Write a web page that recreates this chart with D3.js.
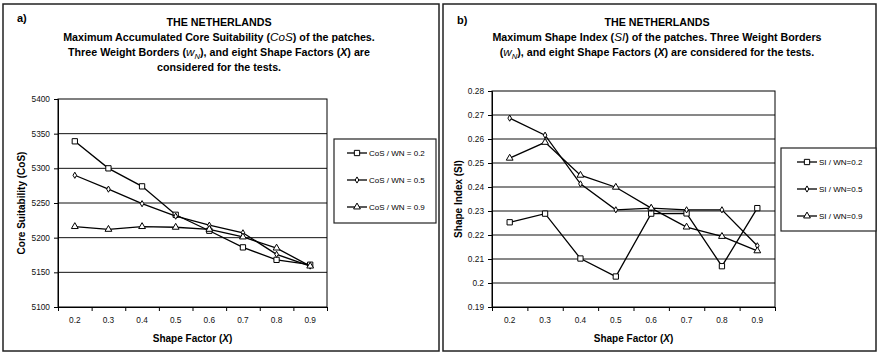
<!DOCTYPE html>
<html><head><meta charset="utf-8">
<script src="https://cdn.jsdelivr.net/npm/d3@7/dist/d3.min.js"></script>
<style>
body { margin: 0; background: #fff; }
text { font-family: "Liberation Sans", Arial, sans-serif; fill: #000; }
.tick text { fill: #111; font-size: 8.3px; }
</style></head><body>
<svg id="chart" width="877" height="353"></svg>
<script>
// data
const shapeFactors = ["0.2", "0.3", "0.4", "0.5", "0.6", "0.7", "0.8", "0.9"];
const cosWN02 = [5339, 5300, 5274, 5233, 5210, 5186, 5168, 5161];
const cosWN05 = [5290, 5270, 5249, 5231, 5218, 5207, 5176, 5159];
const cosWN09 = [5216, 5212, 5216, 5215, 5212, 5201, 5185, 5159];
const siWN02 = [0.2253, 0.2289, 0.2102, 0.2027, 0.2289, 0.2290, 0.2070, 0.2312];
const siWN05 = [0.2687, 0.2616, 0.2413, 0.2305, 0.2312, 0.2305, 0.2305, 0.2155];
const siWN09 = [0.2520, 0.2586, 0.2449, 0.2399, 0.2312, 0.2233, 0.2194, 0.2134];
const cosTicks = [5100, 5150, 5200, 5250, 5300, 5350, 5400];
const siTicks = [0.19, 0.2, 0.21, 0.22, 0.23, 0.24, 0.25, 0.26, 0.27, 0.28];
const cosNames = ["CoS / WN = 0.2", "CoS / WN = 0.5", "CoS / WN = 0.9"];
const siNames = ["SI / WN=0.2", "SI / WN=0.5", "SI / WN=0.9"];

const svg = d3.select("#chart");
const markers = [d3.symbolSquare, d3.symbolDiamond, d3.symbolTriangle];
const markerSize = [28, 11, 20];

const panels = [
  { box: [3, 4, 436, 347], letter: "a)", letterX: 17, letterY: 22, titleX: 219,
    plot: { l: 58, r: 327, t: 99, b: 307 }, ticks: cosTicks, fmt: d => d,
    series: [cosWN02, cosWN05, cosWN09], names: cosNames,
    yTitle: "Core Suitability (CoS)", yTitleX: 21,
    legend: { x: 334, y: 139, w: 102, h: 84, lineX: 347, gap: 27 },
    title: [
      [{ t: "THE NETHERLANDS" }],
      [{ t: "Maximum Accumulated Core Suitability (" }, { t: "CoS", i: 1 }, { t: ") of the patches." }],
      [{ t: "Three Weight Borders (" }, { t: "w", i: 1 }, { t: "N", i: 1, sub: 1 }, { t: "), and eight Shape Factors (" }, { t: "X", i: 2 }, { t: ") are" }],
      [{ t: "considered for the tests." }]
    ] },
  { box: [443, 4, 433, 347], letter: "b)", letterX: 457, letterY: 24, titleX: 657,
    plot: { l: 492, r: 775, t: 91, b: 307 }, ticks: siTicks, fmt: d => +d.toFixed(2),
    series: [siWN02, siWN05, siWN09], names: siNames,
    yTitle: "Shape Index (SI)", yTitleX: 458,
    legend: { x: 781, y: 148, w: 95, h: 83, lineX: 797, gap: 27 },
    title: [
      [{ t: "THE NETHERLANDS" }],
      [{ t: "Maximum Shape Index (" }, { t: "SI", i: 1 }, { t: ") of the patches. Three Weight Borders" }],
      [{ t: "(" }, { t: "w", i: 1 }, { t: "N", i: 1, sub: 1 }, { t: "), and eight Shape Factors (" }, { t: "X", i: 2 }, { t: ") are considered for the tests." }]
    ] }
];

function richLine(g, x, y, parts, size) {
  const txt = g.append("text").attr("x", x).attr("y", y).attr("text-anchor", "middle")
    .attr("font-size", size).attr("font-weight", "bold");
  let shifted = false;
  parts.forEach(p => {
    const s = txt.append("tspan").text(p.t);
    if (p.i) s.attr("font-style", "italic");
    if (p.i === 1) s.attr("font-weight", "normal").attr("font-size", size + 1);
    if (p.sub) { s.attr("dy", 2.5).attr("font-size", size - 3); shifted = true; }
    else if (shifted) { s.attr("dy", -2.5); shifted = false; }
  });
  return txt;
}

function drawPanel(p) {
  const g = svg.append("g");
  g.append("rect").attr("x", p.box[0]).attr("y", p.box[1]).attr("width", p.box[2]).attr("height", p.box[3])
    .attr("fill", "none").attr("stroke", "#222").attr("stroke-width", 1.5);
  g.append("text").attr("x", p.letterX).attr("y", p.letterY).attr("font-size", 11).attr("font-weight", "bold").text(p.letter);
  p.title.forEach((line, k) => richLine(g, p.titleX, 26 + k * 15, line, 10.7));

  const pl = p.plot;
  const x = d3.scaleBand().domain(shapeFactors).range([pl.l, pl.r]);
  const xEdge = d3.scaleLinear().domain([0, shapeFactors.length]).range([pl.l, pl.r]);
  const y = d3.scaleLinear().domain(d3.extent(p.ticks)).range([pl.b, pl.t]);

  // horizontal gridlines
  g.append("g").selectAll("line").data(p.ticks.slice(1, -1)).join("line")
    .attr("x1", pl.l).attr("x2", pl.r).attr("y1", d => y(d)).attr("y2", d => y(d))
    .attr("stroke", "#111").attr("stroke-width", 1);
  g.append("rect").attr("x", pl.l).attr("y", pl.t).attr("width", pl.r - pl.l).attr("height", pl.b - pl.t)
    .attr("fill", "none").attr("stroke", "#000").attr("stroke-width", 1);

  const yAxis = g.append("g").attr("transform", `translate(${pl.l},0)`)
    .call(d3.axisLeft(y).tickValues(p.ticks).tickFormat(p.fmt).tickSize(4).tickPadding(4));
  const xLab = g.append("g").attr("transform", `translate(0,${pl.b})`)
    .call(d3.axisBottom(x).tickSize(0).tickPadding(10));
  const xTick = g.append("g").attr("transform", `translate(0,${pl.b})`)
    .call(d3.axisBottom(xEdge).tickValues(d3.range(shapeFactors.length + 1)).tickFormat("").tickSize(4));
  [yAxis, xLab, xTick].forEach(a => { a.select(".domain").attr("stroke", "#000"); a.selectAll(".tick line").attr("stroke", "#000"); });
  xLab.select(".domain").remove();

  // axis titles
  g.append("text").attr("transform", `translate(${p.yTitleX},${(pl.t + pl.b) / 2}) rotate(-90)`)
    .attr("text-anchor", "middle").attr("dy", "0.35em").attr("font-size", 10).attr("font-weight", "bold").text(p.yTitle);
  richLine(g, (pl.l + pl.r) / 2, 342, [{ t: "Shape Factor (" }, { t: "X", i: 2 }, { t: ")" }], 10);

  // series
  const line = d3.line().x((d, k) => x(shapeFactors[k]) + x.bandwidth() / 2).y(d => y(d));
  p.series.forEach((vals, s) => {
    g.append("path").datum(vals).attr("d", line).attr("fill", "none").attr("stroke", "#000").attr("stroke-width", 1.3);
    g.append("g").selectAll("path").data(vals).join("path")
      .attr("d", d3.symbol(markers[s], markerSize[s]))
      .attr("transform", (d, k) => `translate(${x(shapeFactors[k]) + x.bandwidth() / 2},${y(d)})`)
      .attr("fill", "#fff").attr("stroke", "#000").attr("stroke-width", 1);
  });

  // legend
  const lg = p.legend;
  g.append("rect").attr("x", lg.x).attr("y", lg.y).attr("width", lg.w).attr("height", lg.h)
    .attr("fill", "#fff").attr("stroke", "#222").attr("stroke-width", 1.2);
  p.names.forEach((n, s) => {
    const ly = lg.y + 14 + s * lg.gap;
    g.append("line").attr("x1", lg.lineX).attr("x2", lg.lineX + 20).attr("y1", ly).attr("y2", ly)
      .attr("stroke", "#000").attr("stroke-width", 1.3);
    g.append("path").attr("d", d3.symbol(markers[s], markerSize[s]))
      .attr("transform", `translate(${lg.lineX + 10},${ly})`).attr("fill", "#fff").attr("stroke", "#000");
    g.append("text").attr("x", lg.lineX + 22).attr("y", ly).attr("dy", "0.35em").attr("font-size", 8).attr("fill", "#111").text(n);
  });
}

panels.forEach(drawPanel);
</script>
</body></html>
